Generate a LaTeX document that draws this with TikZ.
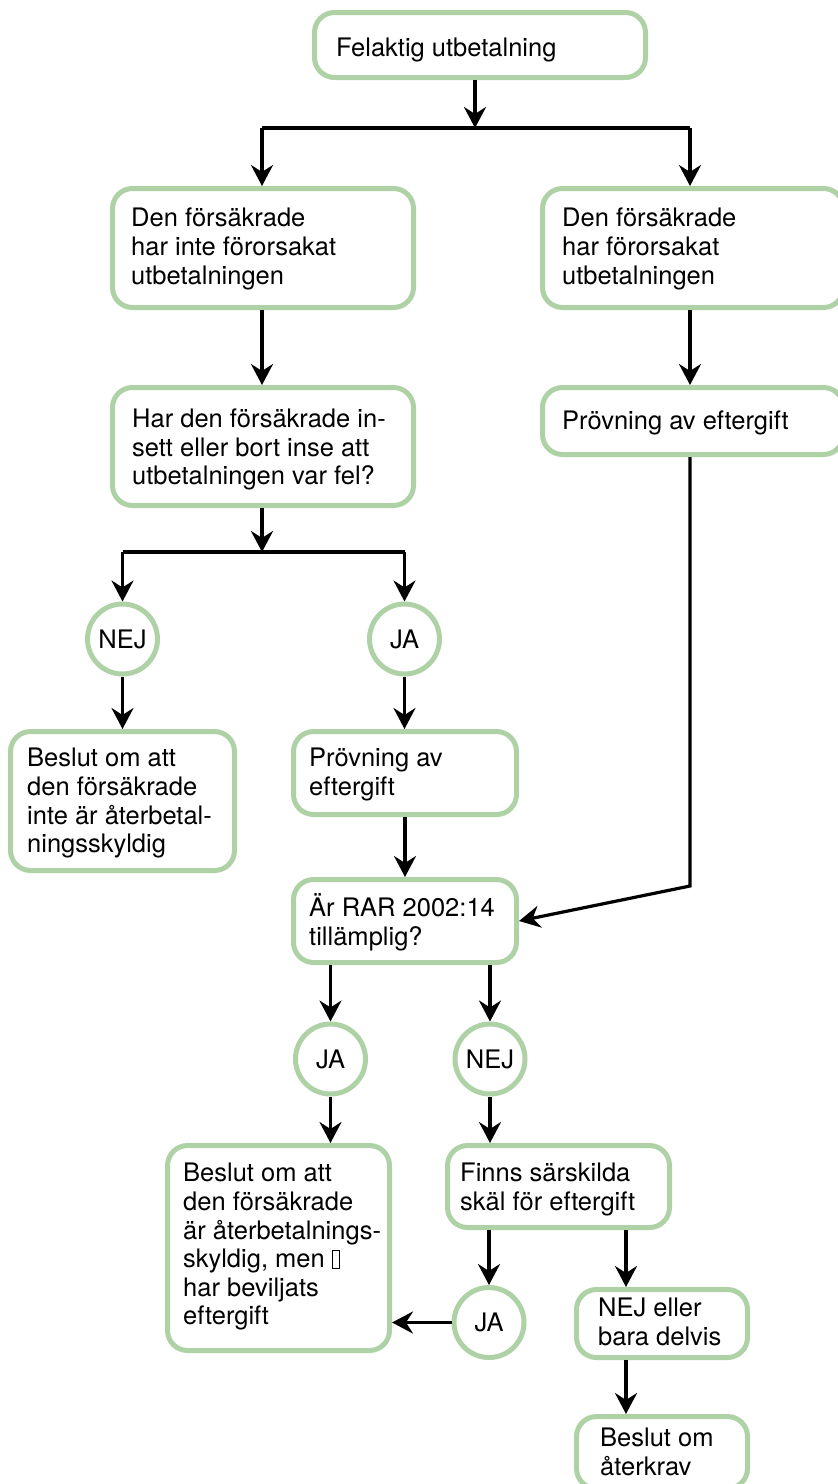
\documentclass[tikz,border=0pt]{standalone}
\usepackage{fontspec}
\setmainfont{TeX Gyre Heros}
\usetikzlibrary{arrows.meta,calc}
\definecolor{boxgreen}{RGB}{174,210,166}
\newcommand\missingglyph{{\fboxsep=0pt\fboxrule=1.1pt\fbox{\rule{0pt}{17pt}\hspace{6pt}}}}
\newcommand\topstrut{\rule{0pt}{25pt}}
\begin{document}
\begin{tikzpicture}[x=1pt,y=-1pt,
  font=\fontsize{25.5}{28.6}\selectfont,
  box/.style={draw=boxgreen, line width=5pt, rounded corners=20pt, fill=white, inner sep=0pt},
  txt/.style={inner sep=0pt, anchor=north west, align=left},
  circ/.style={draw=boxgreen, line width=5pt, circle, minimum size=70pt, inner sep=0pt, fill=white},
  conn/.style={line width=3.2pt, black},
  arr/.style={conn, -{Stealth[length=21pt,width=22pt,inset=7pt]}}
]
\useasboundingbox (0,0) rectangle (838,1484);
% boxes
\node[box, minimum width=331pt, minimum height=65pt] (f) at (480,45) {};
\node[txt] (ft) at ($(f.west)+(24,-13.3)$) {\topstrut Felaktig utbetalning};
\node[box, minimum width=301pt, minimum height=119pt] (b2) at (263,248) {};
\node[txt] (b2t) at ($(b2.west)+(21,-46.3)$) {\topstrut Den försäkrade\\har inte förorsakat\\utbetalningen};
\node[box, minimum width=301pt, minimum height=119pt] (b3) at (693,248) {};
\node[txt] (b3t) at ($(b3.west)+(22,-46.3)$) {\topstrut Den försäkrade\\har förorsakat\\utbetalningen};
\node[box, minimum width=301pt, minimum height=118pt] (b4) at (263,446.5) {};
\node[txt] (b4t) at ($(b4.west)+(22,-44)$) {\topstrut Har den försäkrade in-\\sett eller bort inse att\\utbetalningen var fel?};
\node[box, minimum width=301pt, minimum height=67pt] (b5) at (693,421) {};
\node[txt] (b5t) at ($(b5.west)+(22,-17)$) {\topstrut Prövning av eftergift};
\node[circ] (n1) at (122.5,639) {NEJ};
\node[circ] (y1) at (404.5,639) {JA};
\node[box, minimum width=224pt, minimum height=139pt] (b8) at (122.5,801) {};
\node[txt] (b8t) at ($(b8.west)+(19,-59.3)$) {\topstrut Beslut om att\\den försäkrade\\inte är återbetal-\\ningsskyldig};
\node[box, minimum width=223pt, minimum height=83pt] (b9) at (405,773) {};
\node[txt] (b9t) at ($(b9.west)+(18,-31.3)$) {\topstrut Prövning av\\eftergift};
\node[box, minimum width=223pt, minimum height=83pt] (b10) at (405,921) {};
\node[txt] (b10t) at ($(b10.west)+(18,-29.5)$) {\topstrut Är RAR 2002:14\\tillämplig?};
\node[circ] (y2) at (330.5,1059) {JA};
\node[circ] (n2) at (490,1059) {NEJ};
\node[box, minimum width=222pt, minimum height=205pt] (b13) at (278.5,1248) {};
\node[txt] (b13t) at ($(b13.west)+(18,-91.3)$) {\topstrut Beslut om att\\den försäkrade\\är återbetalnings-\\skyldig, men \missingglyph\\har beviljats\\eftergift};
\node[box, minimum width=222pt, minimum height=82pt] (b14) at (558.5,1186.5) {};
\node[txt] (b14t) at ($(b14.west)+(15,-29.8)$) {\topstrut Finns särskilda\\skäl för eftergift};
\node[circ] (y3) at (489,1322.5) {JA};
\node[box, minimum width=171pt, minimum height=68pt] (b16) at (662,1323.5) {};
\node[txt] (b16t) at ($(b16.west)+(24,-31.8)$) {\topstrut NEJ eller\\bara delvis};
\node[box, minimum width=171pt, minimum height=72pt] (b17) at (662,1452.5) {};
\node[txt] (b17t) at ($(b17.west)+(26,-30.8)$) {\topstrut Beslut om\\återkrav};
% junction coordinates
\coordinate (j1) at (475,128);
\coordinate (l1) at (262,128);
\coordinate (r1) at (690,128);
\coordinate (j2) at (262,552);
\coordinate (c1) at (690,886);
\coordinate (c2) at (626,1300);
% connectors
\draw[arr] (f.south -| j1) -- (j1);
\draw[conn] (l1) -- (r1);
\draw[arr] (l1) -- (l1 |- b2.north);
\draw[arr] (r1) -- (r1 |- b3.north);
\draw[arr] (b2.south -| l1) -- (b4.north -| l1);
\draw[arr] (b3.south -| r1) -- (b5.north -| r1);
\draw[arr] (b4.south -| j2) -- (j2);
\draw[conn] (n1 |- j2) -- (y1 |- j2);
\draw[arr] (n1 |- j2) -- (n1.north);
\draw[arr] (y1 |- j2) -- (y1.north);
\draw[arr] (n1.south) -- (n1.south |- b8.north);
\draw[arr] (y1.south) -- (y1.south |- b9.north);
\draw[arr] (b9.south) -- (b10.north);
\draw[arr] (b5.south -| r1) -- (c1) -- (b10.east);
\draw[arr] (b10.south -| y2) -- (y2.north);
\draw[arr] (b10.south -| n2) -- (n2.north);
\draw[arr] (y2.south) -- (y2.south |- b13.north);
\draw[arr] (n2.south) -- (n2.south |- b14.north);
\draw[arr] (b14.south -| y3) -- (y3.north);
\draw[arr] (b14.south -| c2) -- (b16.north -| c2);
\draw[arr] (y3.west) -- (y3.west -| b13.east);
\draw[arr] (b16.south -| c2) -- (b17.north -| c2);
\end{tikzpicture}
\end{document}
